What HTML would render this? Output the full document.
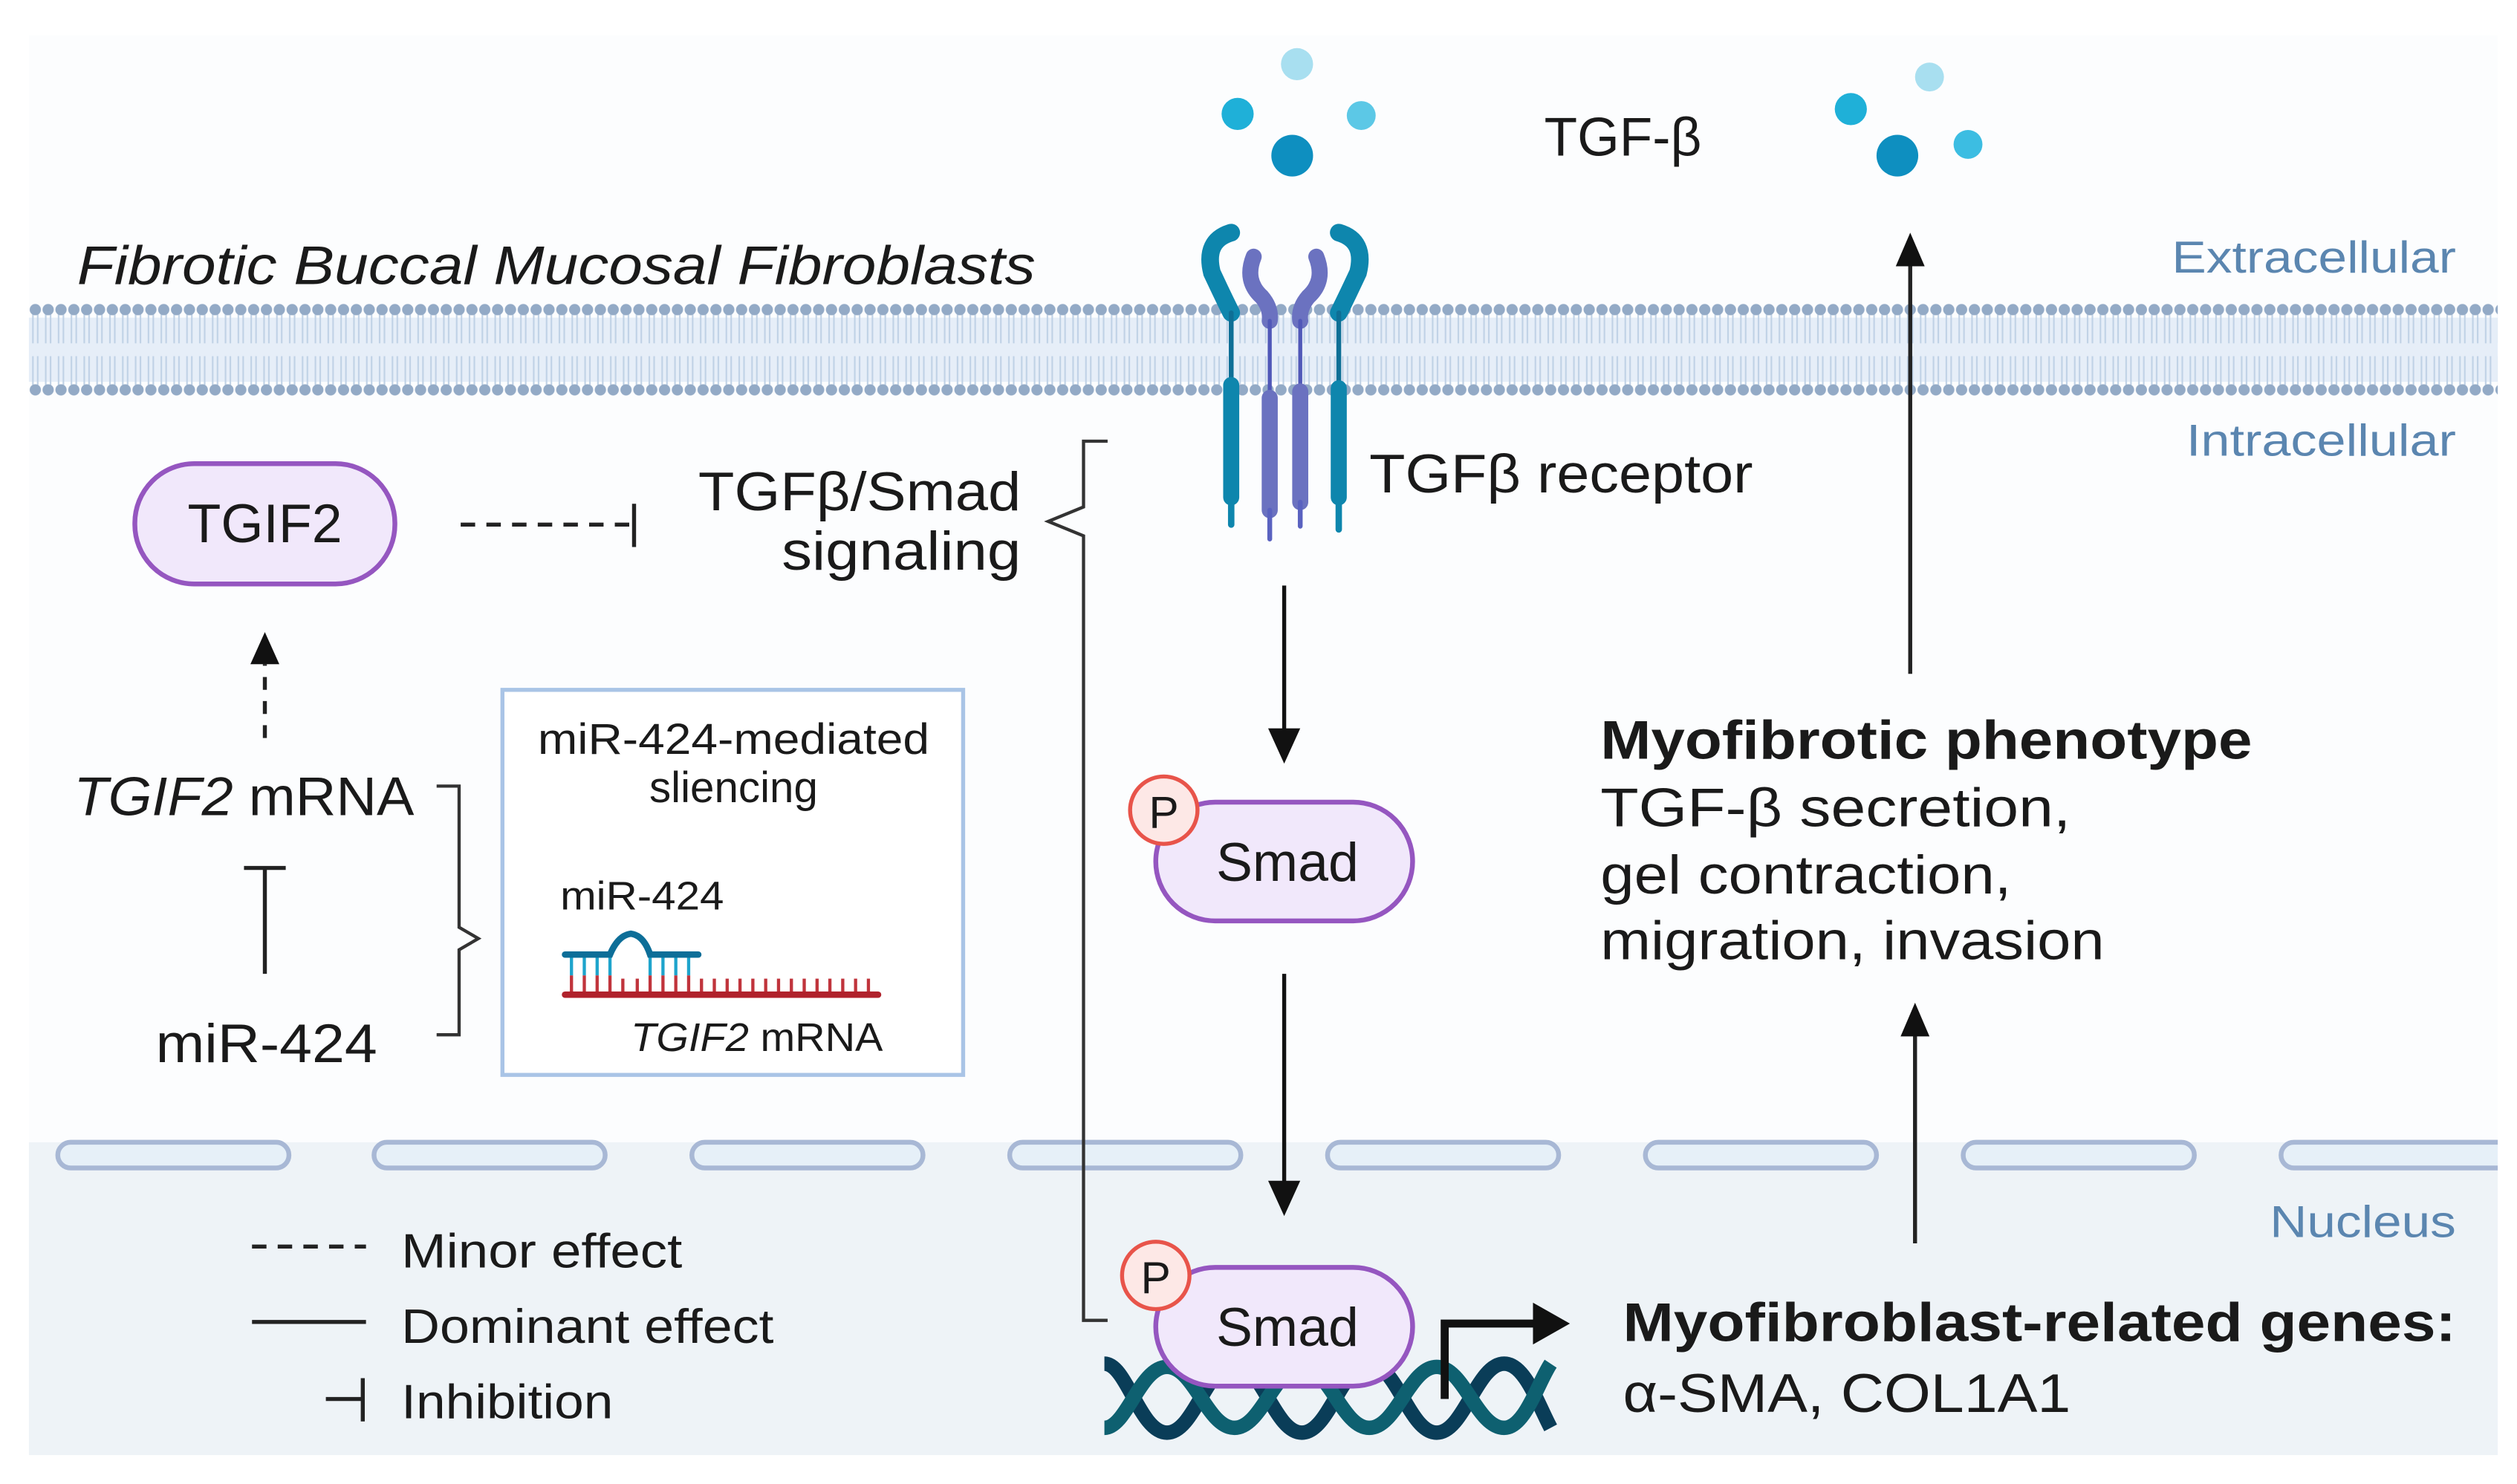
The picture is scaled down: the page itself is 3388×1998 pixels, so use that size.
<!DOCTYPE html>
<html><head><meta charset="utf-8"><style>
html,body{margin:0;padding:0;background:#fff}
svg{display:block}
text{font-family:"Liberation Sans",sans-serif;fill:#1a1a1a}
</style></head><body>
<svg width="3388" height="1998" viewBox="0 0 1568 925" preserveAspectRatio="none" xmlns="http://www.w3.org/2000/svg">
<defs>
<pattern id="lip" x="18" y="0" width="8" height="925" patternUnits="userSpaceOnUse">
<line x1="2.5" y1="196" x2="2.5" y2="214" stroke="#c0d2e6" stroke-width="1"/>
<line x1="5.5" y1="196" x2="5.5" y2="214" stroke="#c0d2e6" stroke-width="1"/>
<line x1="2.5" y1="222" x2="2.5" y2="240" stroke="#c0d2e6" stroke-width="1"/>
<line x1="5.5" y1="222" x2="5.5" y2="240" stroke="#c0d2e6" stroke-width="1"/>
<circle cx="4" cy="193" r="3.5" fill="#93aac6"/>
<circle cx="4" cy="243" r="3.5" fill="#93aac6"/>
</pattern>
</defs>
<rect x="18" y="22" width="1538" height="690" fill="#fcfdfe"/>
<rect x="18" y="712" width="1538" height="195" fill="#eef3f7"/>
<rect x="18" y="198" width="1538" height="40" fill="#e6eef8"/>
<rect x="18" y="185" width="1538" height="64" fill="url(#lip)"/>
<g fill="#e6f0f8" stroke="#a8b8d5" stroke-width="3">
<rect x="36" y="712" width="144" height="16" rx="8"/>
<rect x="233" y="712" width="144" height="16" rx="8"/>
<rect x="431" y="712" width="144" height="16" rx="8"/>
<rect x="629" y="712" width="144" height="16" rx="8"/>
<rect x="827" y="712" width="144" height="16" rx="8"/>
<rect x="1025" y="712" width="144" height="16" rx="8"/>
<rect x="1223" y="712" width="144" height="16" rx="8"/>
<rect x="1421" y="712" width="150" height="16" rx="8"/>
</g>
<rect x="1556" y="700" width="12" height="40" fill="#fff"/>
<text x="48" y="177" font-size="34" font-style="italic" textLength="597" lengthAdjust="spacingAndGlyphs">Fibrotic Buccal Mucosal Fibroblasts</text>
<text x="1353" y="170" font-size="28" textLength="177" lengthAdjust="spacingAndGlyphs" style="fill:#5b86b0">Extracellular</text>
<text x="1362" y="284" font-size="28" textLength="168" lengthAdjust="spacingAndGlyphs" style="fill:#5b86b0">Intracellular</text>
<text x="1414" y="771" font-size="28" textLength="116" lengthAdjust="spacingAndGlyphs" style="fill:#5b86b0">Nucleus</text>
<circle cx="808" cy="40" r="10" fill="#a8dff0"/>
<circle cx="771" cy="71" r="10" fill="#1fb0d8"/>
<circle cx="848" cy="72" r="9" fill="#5cc8e6"/>
<circle cx="805" cy="97" r="13" fill="#0e8fc0"/>
<circle cx="1202" cy="48" r="9" fill="#a8dff0"/>
<circle cx="1153" cy="68" r="10" fill="#1fb0d8"/>
<circle cx="1226" cy="90" r="9" fill="#3cbde2"/>
<circle cx="1182" cy="97" r="13" fill="#0e8fc0"/>
<text x="962" y="97" font-size="34" textLength="98" lengthAdjust="spacingAndGlyphs">TGF-β</text>
<g stroke-linecap="round" fill="none">
<path d="M767,145 Q750,150 755,170 Q762,185 767,195" stroke="#0e86ad" stroke-width="11"/>
<path d="M834,145 Q851,150 846,170 Q839,185 834,195" stroke="#0e86ad" stroke-width="11"/>
<path d="M781,160 Q775,175 786,185 Q792,192 791,200" stroke="#6b72c0" stroke-width="10"/>
<path d="M820,160 Q826,175 815,185 Q809,192 810,200" stroke="#6b72c0" stroke-width="10"/>
<line x1="767" y1="195" x2="767" y2="240" stroke="#0e6f96" stroke-width="3"/>
<line x1="834" y1="195" x2="834" y2="240" stroke="#0e6f96" stroke-width="3"/>
<line x1="791" y1="200" x2="791" y2="245" stroke="#5058b8" stroke-width="2.5"/>
<line x1="810" y1="200" x2="810" y2="245" stroke="#5058b8" stroke-width="2.5"/>
<line x1="767" y1="240" x2="767" y2="310" stroke="#0e86ad" stroke-width="10"/>
<line x1="834" y1="242" x2="834" y2="310" stroke="#0e86ad" stroke-width="10"/>
<line x1="791" y1="248" x2="791" y2="318" stroke="#6b72c0" stroke-width="10"/>
<line x1="810" y1="244" x2="810" y2="313" stroke="#6b72c0" stroke-width="10"/>
<line x1="767" y1="310" x2="767" y2="327" stroke="#0e86ad" stroke-width="4"/>
<line x1="834" y1="310" x2="834" y2="330" stroke="#0e86ad" stroke-width="4"/>
<line x1="791" y1="318" x2="791" y2="336" stroke="#5a62c0" stroke-width="3"/>
<line x1="810" y1="313" x2="810" y2="328" stroke="#5a62c0" stroke-width="3"/>
</g>
<text x="853" y="307" font-size="34" textLength="239" lengthAdjust="spacingAndGlyphs">TGFβ receptor</text>
<path d="M690,275 L675,275 L675,316 L653,325 L675,334 L675,823 L690,823" fill="none" stroke="#333" stroke-width="2"/>
<text x="435" y="318" font-size="34" textLength="201" lengthAdjust="spacingAndGlyphs">TGFβ/Smad</text>
<text x="487" y="355" font-size="34" textLength="149" lengthAdjust="spacingAndGlyphs">signaling</text>
<rect x="84" y="289" width="162" height="75" rx="37" fill="#f1e8fb" stroke="#9556c0" stroke-width="3"/>
<text x="165" y="338" font-size="34" text-anchor="middle">TGIF2</text>
<line x1="287" y1="327" x2="392" y2="327" stroke="#222" stroke-width="2.5" stroke-dasharray="9,7"/>
<line x1="395" y1="314" x2="395" y2="341" stroke="#222" stroke-width="2.5"/>
<line x1="165" y1="460" x2="165" y2="414" stroke="#222" stroke-width="2.5" stroke-dasharray="8,7"/>
<path d="M156,414 L165,394 L174,414 z" fill="#111"/>
<text x="46" y="508" font-size="34" textLength="212" lengthAdjust="spacingAndGlyphs"><tspan font-style="italic">TGIF2</tspan> mRNA</text>
<line x1="165" y1="541" x2="165" y2="607" stroke="#222" stroke-width="2.5"/>
<line x1="152" y1="541" x2="178" y2="541" stroke="#222" stroke-width="2.5"/>
<text x="97" y="662" font-size="34" textLength="138" lengthAdjust="spacingAndGlyphs">miR-424</text>
<path d="M272,490 L286,490 L286,578 L298,585 L286,592 L286,645 L272,645" fill="none" stroke="#333" stroke-width="2"/>
<rect x="313" y="430" width="287" height="240" fill="#fff" stroke="#a9c4e6" stroke-width="2.5"/>
<text x="335" y="470" font-size="27" textLength="244" lengthAdjust="spacingAndGlyphs">miR-424-mediated</text>
<text x="457" y="500" font-size="27" text-anchor="middle">sliencing</text>
<text x="349" y="567" font-size="25" textLength="102" lengthAdjust="spacingAndGlyphs">miR-424</text>
<g stroke-width="2">
<g stroke="#1ea4cc">
<line x1="356" y1="596" x2="356" y2="608"/><line x1="364" y1="596" x2="364" y2="608"/><line x1="372" y1="596" x2="372" y2="608"/><line x1="380" y1="596" x2="380" y2="608"/><line x1="405" y1="596" x2="405" y2="608"/><line x1="413" y1="596" x2="413" y2="608"/><line x1="421" y1="596" x2="421" y2="608"/><line x1="429" y1="596" x2="429" y2="608"/>
</g>
<g stroke="#c0343c">
<line x1="356" y1="608" x2="356" y2="619"/><line x1="364" y1="608" x2="364" y2="619"/><line x1="372" y1="608" x2="372" y2="619"/><line x1="380" y1="608" x2="380" y2="619"/><line x1="388" y1="610" x2="388" y2="619"/><line x1="397" y1="610" x2="397" y2="619"/><line x1="405" y1="608" x2="405" y2="619"/><line x1="413" y1="608" x2="413" y2="619"/><line x1="421" y1="608" x2="421" y2="619"/><line x1="429" y1="608" x2="429" y2="619"/>
<line x1="437" y1="610" x2="437" y2="619"/><line x1="445" y1="610" x2="445" y2="619"/><line x1="453" y1="610" x2="453" y2="619"/><line x1="461" y1="610" x2="461" y2="619"/><line x1="469" y1="610" x2="469" y2="619"/><line x1="477" y1="610" x2="477" y2="619"/><line x1="485" y1="610" x2="485" y2="619"/><line x1="493" y1="610" x2="493" y2="619"/><line x1="501" y1="610" x2="501" y2="619"/><line x1="509" y1="610" x2="509" y2="619"/><line x1="517" y1="610" x2="517" y2="619"/><line x1="525" y1="610" x2="525" y2="619"/><line x1="533" y1="610" x2="533" y2="619"/><line x1="541" y1="610" x2="541" y2="619"/>
</g>
</g>
<path d="M352,595 L380,595 Q385,583 393,582 Q401,583 405,595 L435,595" fill="none" stroke="#0d6e98" stroke-width="4" stroke-linecap="round"/>
<line x1="352" y1="620" x2="547" y2="620" stroke="#b0222c" stroke-width="4" stroke-linecap="round"/>
<text x="393" y="655" font-size="25" textLength="157" lengthAdjust="spacingAndGlyphs"><tspan font-style="italic">TGIF2</tspan> mRNA</text>
<line x1="800" y1="365" x2="800" y2="456" stroke="#111" stroke-width="2.5"/>
<path d="M790,454 L800,476 L810,454 z" fill="#111"/>
<line x1="800" y1="607" x2="800" y2="738" stroke="#111" stroke-width="2.5"/>
<path d="M790,736 L800,758 L810,736 z" fill="#111"/>
<rect x="720" y="500" width="160" height="74" rx="37" fill="#f1e8fb" stroke="#9556c0" stroke-width="3"/>
<circle cx="725" cy="505" r="21" fill="#fde8e6" stroke="#e8544a" stroke-width="2.5"/>
<text x="725" y="516" font-size="28" text-anchor="middle">P</text>
<text x="802" y="549" font-size="34" text-anchor="middle">Smad</text>
<g fill="none" stroke-width="9">
<path d="M688,850 C702,850 710,893 727,893 C744,893 752,850 769,850 C786,850 794,893 811,893 C828,893 836,850 853,850 C870,850 878,893 895,893 C912,893 920,850 937,850 C950,850 958,875 966,890" stroke="#0a3d58"/>
<path d="M688,890 C702,890 710,852 727,852 C744,852 752,890 769,890 C786,890 794,852 811,852 C828,852 836,890 853,890 C870,890 878,852 895,852 C912,852 920,890 937,890 C950,890 958,862 966,850" stroke="#0e6070"/>
</g>
<rect x="720" y="790" width="160" height="74" rx="37" fill="#f1e8fb" stroke="#9556c0" stroke-width="3"/>
<circle cx="720" cy="795" r="21" fill="#fde8e6" stroke="#e8544a" stroke-width="2.5"/>
<text x="720" y="806" font-size="28" text-anchor="middle">P</text>
<text x="802" y="839" font-size="34" text-anchor="middle">Smad</text>
<path d="M900,872 L900,825 L958,825" fill="none" stroke="#111" stroke-width="5"/>
<path d="M955,812 L978,825 L955,838 z" fill="#111"/>
<text x="1011" y="836" font-size="34" font-weight="bold" textLength="519" lengthAdjust="spacingAndGlyphs">Myofibroblast-related genes:</text>
<text x="1011" y="880" font-size="34" textLength="279" lengthAdjust="spacingAndGlyphs">α-SMA, COL1A1</text>
<line x1="1193" y1="775" x2="1193" y2="645" stroke="#222" stroke-width="2.5"/>
<path d="M1184,646 L1193,625 L1202,646 z" fill="#111"/>
<line x1="1190" y1="420" x2="1190" y2="165" stroke="#222" stroke-width="2.5"/>
<path d="M1181,166 L1190,145 L1199,166 z" fill="#111"/>
<text x="997" y="473" font-size="34" font-weight="bold" textLength="406" lengthAdjust="spacingAndGlyphs">Myofibrotic phenotype</text>
<text x="997" y="515" font-size="34" textLength="293" lengthAdjust="spacingAndGlyphs">TGF-β secretion,</text>
<text x="997" y="557" font-size="34" textLength="256" lengthAdjust="spacingAndGlyphs">gel contraction,</text>
<text x="997" y="598" font-size="34" textLength="314" lengthAdjust="spacingAndGlyphs">migration, invasion</text>
<line x1="157" y1="777" x2="228" y2="777" stroke="#222" stroke-width="2.5" stroke-dasharray="9,7"/>
<text x="250" y="790" font-size="30" textLength="175" lengthAdjust="spacingAndGlyphs">Minor effect</text>
<line x1="157" y1="824" x2="228" y2="824" stroke="#222" stroke-width="2.5"/>
<text x="250" y="837" font-size="30" textLength="232" lengthAdjust="spacingAndGlyphs">Dominant effect</text>
<line x1="203" y1="872" x2="226" y2="872" stroke="#222" stroke-width="2.5"/>
<line x1="226" y1="859" x2="226" y2="886" stroke="#222" stroke-width="2.5"/>
<text x="250" y="884" font-size="30" textLength="132" lengthAdjust="spacingAndGlyphs">Inhibition</text>
</svg>
</body></html>
